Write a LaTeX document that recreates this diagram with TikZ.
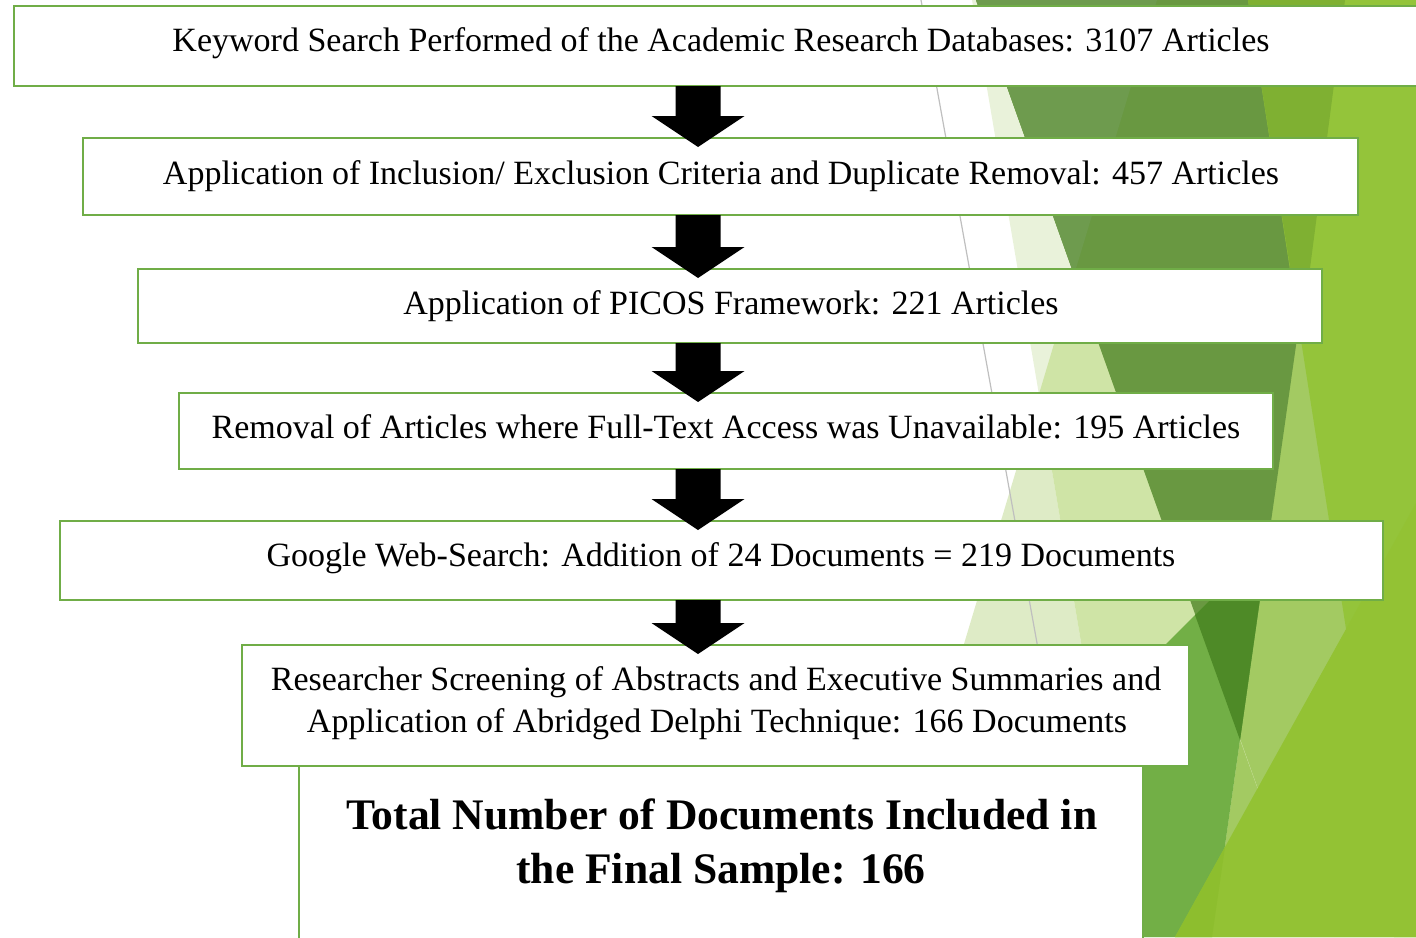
\documentclass[tikz,border=0pt]{standalone}
\usepackage{fontspec}
\setmainfont{Liberation Serif}
\usetikzlibrary{calc}
\definecolor{bordergreen}{HTML}{70AD47}
\definecolor{cP}{HTML}{E9F2DA}
\definecolor{cQ}{HTML}{DEEBC6}
\definecolor{cPQ}{HTML}{CFE4A6}
\definecolor{cBase}{HTML}{A3CA62}
\definecolor{cR}{HTML}{699841}
\definecolor{cRl}{HTML}{6E9B4E}
\definecolor{cO}{HTML}{94C43A}
\definecolor{cOl}{HTML}{7FB032}
\definecolor{cM}{HTML}{72AF46}
\definecolor{cD}{HTML}{4E8A27}
\definecolor{cC}{HTML}{93C234}
\definecolor{cCM}{HTML}{8DBE2E}
\definecolor{cG}{HTML}{BFBFBF}
\newcommand\flowarrow[2]{%
  \fill[black] ($(#1.south -| ax)+(-22.5,0)$) -- ($(#2.north -| ax)+(-22.5,-22)$)
    -- ($(#2.north -| ax)+(-46.5,-22)$) -- ($(#2.north -| ax)+(0,9)$)
    -- ($(#2.north -| ax)+(46.5,-22)$) -- ($(#2.north -| ax)+(22.5,-22)$)
    -- ($(#1.south -| ax)+(22.5,0)$) -- cycle;}
\begin{document}
\begin{tikzpicture}[x=0.5pt,y=-0.5pt,
  box/.style={draw=bordergreen, line width=1.3pt, fill=white, rectangle, inner sep=0pt, outer sep=0pt},
  txt/.style={anchor=base, inner sep=0pt, font=\fontsize{17}{20}\selectfont},
  bigtxt/.style={anchor=base, inner sep=0pt, font=\fontsize{21.8}{26}\selectfont\bfseries}]
\useasboundingbox (0,0) rectangle (1416,937);
\clip (0,0) rectangle (1416,937);
% background facets
\fill[cP] (972,0) -- (1416,0) -- (1416,937) -- (1131,937) -- cycle;
\fill[cQ] (1039,394) -- (876,937) -- (1131,937) -- cycle;
\fill[cPQ] (1157,0) -- (1416,0) -- (1416,937) -- (1131,937) -- (1039,394) -- cycle;
\fill[cBase] (976,0) -- (1416,0) -- (1416,937) -- (1311,937) -- cycle;
\fill[cBase] (1240,740) -- (1311,937) -- (1212,937) -- cycle;
\fill[cR] (976,0) -- (1345,0) -- (1240,740) -- cycle;
\fill[cRl] (976,0) -- (1157,0) -- (1074,275) -- cycle;
\fill[cO] (1248,0) -- (1416,0) -- (1416,937) -- (1394,937) -- cycle;
\fill[cOl] (1248,0) -- (1345,0) -- (1301,337) -- cycle;
\fill[cM] (1268,542) -- (1212,937) -- (1100,937) -- (1100,710) -- cycle;
\fill[cD] (1195,615) -- (1268,542) -- (1240,740) -- cycle;
\fill[cC] (1416,503) -- (1416,937) -- (1175,937) -- cycle;
\fill[cCM] (1225,847) -- (1212,937) -- (1175,937) -- cycle;
\draw[cG, line width=0.6pt] (921,0) -- (1090,937);
% boxes
\node[box, minimum width=713pt, minimum height=40pt] (b1) at (727,46) {};
\node[box, minimum width=637.5pt, minimum height=38.5pt] (b2) at (720.5,176.5) {};
\node[box, minimum width=592pt, minimum height=37pt] (b3) at (730,306) {};
\node[box, minimum width=547pt, minimum height=38pt] (b4) at (726,431) {};
\node[box, minimum width=661.5pt, minimum height=39.5pt] (b5) at (721.5,560.5) {};
\node[box, minimum width=422pt, minimum height=92pt] (b7) at (721,858) {};
\node[box, minimum width=473.5pt, minimum height=60.5pt] (b6) at (715.5,705.5) {};
% texts
\node[txt] (t1) at (721,51) {Keyword Search Performed of the Academic Research Databases: 3107 Articles};
\node[txt] (t2) at (721,184) {Application of Inclusion/ Exclusion Criteria and Duplicate Removal: 457 Articles};
\node[txt] (t3) at (731,314) {Application of PICOS Framework: 221 Articles};
\node[txt] (t4) at (726,438) {Removal of Articles where Full-Text Access was Unavailable: 195 Articles};
\node[txt] (t5) at (721,566) {Google Web-Search: Addition of 24 Documents = 219 Documents};
\node[txt] (t6a) at (716,690) {Researcher Screening of Abstracts and Executive Summaries and};
\node[txt] (t6b) at (717,732) {Application of Abridged Delphi Technique: 166 Documents};
\node[bigtxt] (t7a) at (722,829) {Total Number of Documents Included in};
\node[bigtxt] (t7b) at (721,883) {the Final Sample: 166};
% arrows
\coordinate (ax) at (698,0);
\flowarrow{b1}{b2}
\flowarrow{b2}{b3}
\flowarrow{b3}{b4}
\flowarrow{b4}{b5}
\flowarrow{b5}{b6}
\end{tikzpicture}
\end{document}
